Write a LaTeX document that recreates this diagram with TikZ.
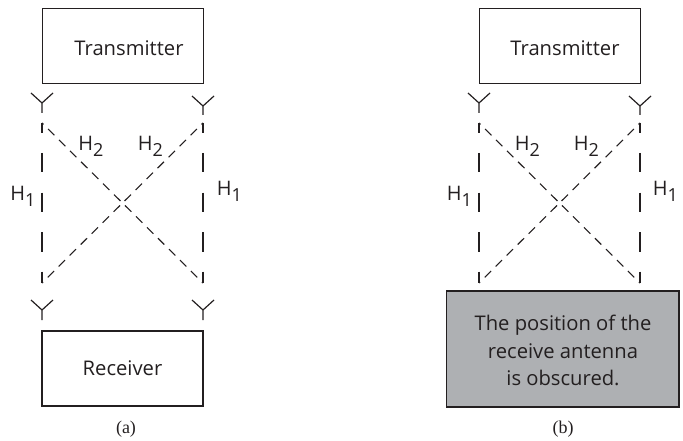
\documentclass[tikz,border=0pt]{standalone}
\usepackage{fontspec}
\setmainfont{Liberation Serif}
\newfontfamily\lab{Open Sans}
\definecolor{ink}{HTML}{231F20}
\definecolor{obsc}{HTML}{AEB0B3}
\newcommand{\Hsub}[1]{H\raisebox{-0.3em}{\fontsize{18}{20}\selectfont #1}}
\tikzset{
  x=1pt,y=-1pt,
  boxed/.style={draw=ink,line width=1.2pt,minimum width=161pt,minimum height=75pt,inner sep=0pt,text=ink,font=\lab\fontsize{20.2}{22}\selectfont},
  lbl/.style={inner sep=0pt,text=ink,font=\lab\fontsize{20}{22}\selectfont},
  bodytxt/.style={inner sep=0pt,text=ink,align=center,font=\lab\fontsize{20.2}{27.5}\selectfont},
  captxt/.style={inner sep=0pt,text=ink,font=\fontsize{18}{20}\selectfont},
  longdash/.style={draw=ink,line width=1.1pt,dash pattern=on 19.5pt off 20pt,dash phase=9.5pt},
  shortdash/.style={draw=ink,line width=1.1pt,dash pattern=on 9pt off 6.5pt,dash phase=7pt},
  aerial/.style={draw=ink,line width=1.2pt},
}
\newcommand{\Yant}[3]{%
  \draw[aerial] (#1-11,#2-10) -- (#1,#2) -- (#1+11,#2-10) (#1,#2) -- (#1,#3);}
\begin{document}
\begin{tikzpicture}
\useasboundingbox (0,0) rectangle (683,441);
% (a)
\node[boxed,anchor=north west] (txa) at (42,8) {};
\node[bodytxt] (txat) at (129,48) {Transmitter};
\node[boxed] (rxa) at (122.5,368.5) {Receiver};
\Yant{42}{103}{113}
\Yant{203}{106}{115}
\Yant{42}{310}{320}
\Yant{203}{310}{320}
\coordinate (a1) at (42,123);
\coordinate (a2) at (203,123);
\coordinate (a3) at (42,283);
\coordinate (a4) at (203,283);
\draw[longdash] (a1) -- (a3);
\draw[longdash] (a2) -- (a4);
\draw[shortdash] (a1) -- (a4);
\draw[shortdash] (a2) -- (a3);
\node[lbl] (a5) at (23,196) {\Hsub{1}};
\node[lbl] (a6) at (229.5,191) {\Hsub{1}};
\node[lbl] (a7) at (91,146) {\Hsub{2}};
\node[lbl] (a8) at (150.5,146) {\Hsub{2}};
\node[captxt] (capa) at (126,429) {(a)};
% (b)
\node[boxed,anchor=north west] (txb) at (479,8) {};
\node[bodytxt] (txbt) at (565,48) {Transmitter};
\Yant{479}{103}{113}
\Yant{640}{106}{115}
\coordinate (b1) at (479,123);
\coordinate (b2) at (640,123);
\coordinate (b3) at (479,283);
\coordinate (b4) at (640,283);
\draw[longdash] (b1) -- (b3);
\draw[longdash] (b2) -- (b4);
\draw[shortdash] (b1) -- (b4);
\draw[shortdash] (b2) -- (b3);
\node[lbl] (b5) at (459.5,196) {\Hsub{1}};
\node[lbl] (b6) at (665.5,191) {\Hsub{1}};
\node[lbl] (b7) at (527.5,146) {\Hsub{2}};
\node[lbl] (b8) at (586.5,146) {\Hsub{2}};
\node[boxed,fill=obsc,minimum width=232.5pt,minimum height=116pt] (rxb) at (562.7,349) {};
\node[bodytxt] (rxbt) at (563,350.5) {The position of the\\receive antenna\\is obscured.};
\node[captxt] (capb) at (563,429) {(b)};
\end{tikzpicture}
\end{document}
